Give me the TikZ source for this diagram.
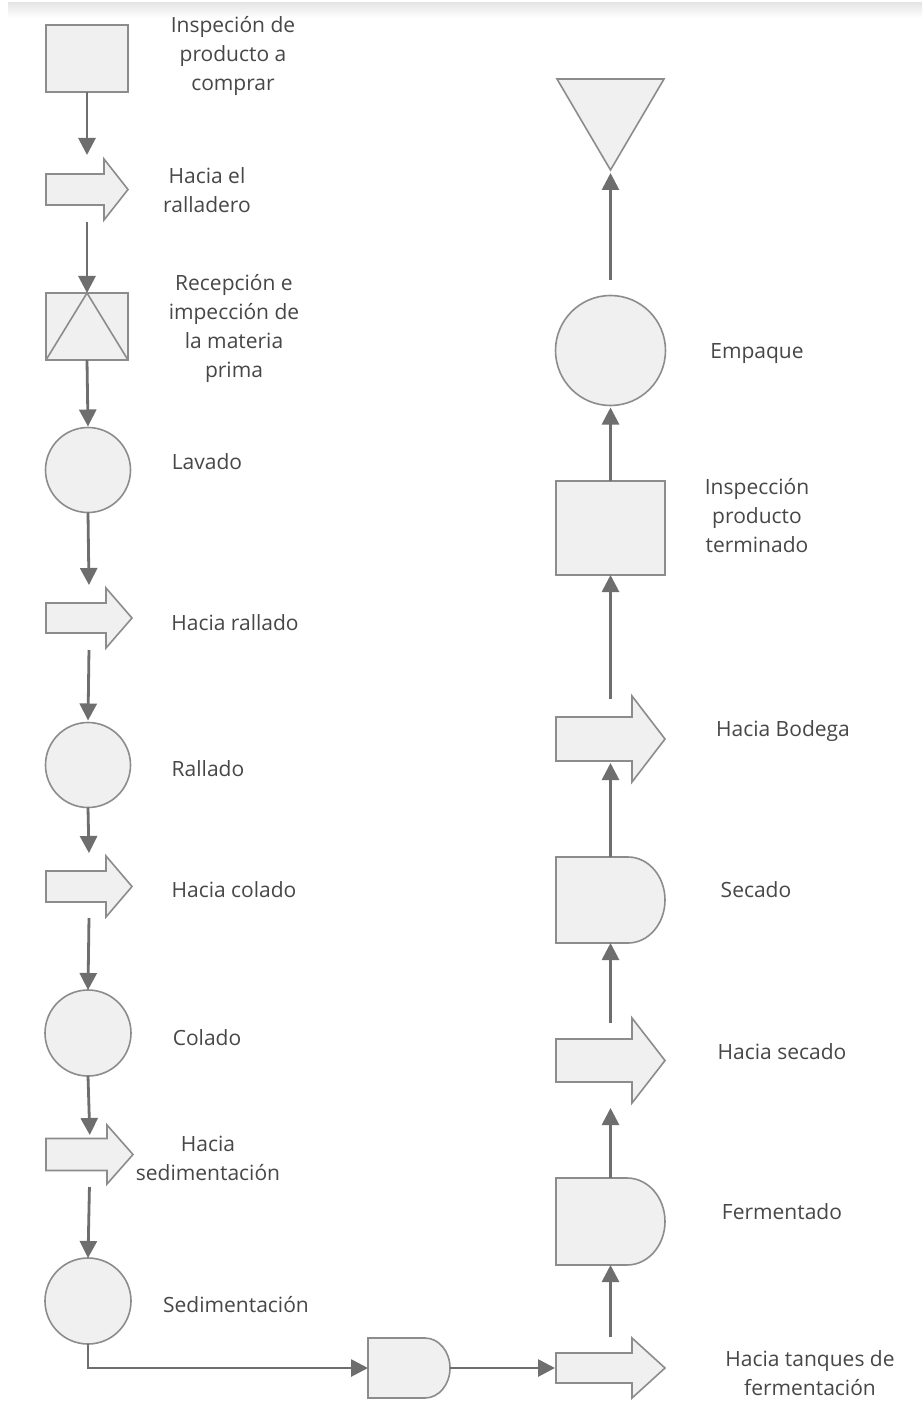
\documentclass[tikz,border=0pt]{standalone}
\usepackage{fontspec}
\setmainfont{Open Sans}
\usetikzlibrary{arrows.meta,calc}
\definecolor{shpfill}{HTML}{F0F0F0}
\definecolor{shpdraw}{HTML}{8C8C8C}
\definecolor{conncol}{HTML}{6E6E6E}
\definecolor{txtcol}{HTML}{474747}
\tikzset{
  shp/.style={draw=shpdraw,fill=shpfill,line width=1.6pt,line join=miter},
  shpline/.style={draw=shpdraw,line width=1.6pt},
  holder/.style={inner sep=0pt,outer sep=0pt},
  circ/.style={shp,circle,inner sep=0pt,outer sep=0pt,minimum size=#1},
  rbox/.style={shp,rectangle,inner sep=0pt,outer sep=0pt},
  conn/.style={draw=conncol,line width=2.8pt,-{Triangle[length=17pt,width=17pt]}},
  lbl/.style={text=txtcol,font=\fontsize{21}{29}\selectfont,align=center,inner sep=0pt}
}
% block arrow: name, head length, shaft half width
\newcommand\blockarr[3]{\draw[shp] ($(#1.west)+(0pt,#3pt)$) -- ($(#1.east)+(-#2pt,#3pt)$) -- ($(#1.north east)+(-#2pt,0pt)$) -- (#1.east) -- ($(#1.south east)+(-#2pt,0pt)$) -- ($(#1.east)+(-#2pt,-#3pt)$) -- ($(#1.west)+(0pt,-#3pt)$) -- cycle;}
% D shape: name, arc x radius, half height
\newcommand\dshape[3]{\draw[shp] (#1.north west) -- ($(#1.north east)+(-#2pt,0pt)$) arc[start angle=90,end angle=-90,x radius=#2pt,y radius=#3pt] -- (#1.south west) -- cycle;}
\begin{document}
\begin{tikzpicture}[x=1pt,y=-1pt]
\useasboundingbox (0,0) rectangle (922,1404);
\fill[white] (0,0) rectangle (922,1404);
\shade[top color=black!10,bottom color=white] (8,3) rectangle (922,18);

% ---------- placeholders / shapes (left column)
\node[rbox,minimum width=82pt,minimum height=67pt] (sq1) at (87,58.5) {};
\node[holder,minimum width=82pt,minimum height=61pt] (ba1) at (87,189.5) {};
\node[rbox,minimum width=82pt,minimum height=67pt] (rc2) at (87,326.5) {};
\node[circ=85pt] (c1) at (88,470) {};
\node[holder,minimum width=86pt,minimum height=60pt] (ba2) at (89,618) {};
\node[circ=85pt] (c2) at (88,765) {};
\node[holder,minimum width=86pt,minimum height=61pt] (ba3) at (89,886.5) {};
\node[circ=86pt] (c3) at (88,1033) {};
\node[holder,minimum width=87pt,minimum height=59pt] (ba4) at (89.5,1154.5) {};
\node[circ=86pt] (c4) at (88,1301) {};
\node[holder,minimum width=82pt,minimum height=60pt] (gate) at (409,1368) {};

% ---------- right column
\node[holder,minimum width=107pt,minimum height=91pt] (tri) at (610.5,124.5) {};
\node[circ=110pt] (cE) at (610.5,350.5) {};
\node[rbox,minimum width=109pt,minimum height=94pt] (sqI) at (610.5,528) {};
\node[holder,minimum width=109pt,minimum height=86pt] (baR2) at (610.5,739) {};
\node[holder,minimum width=109pt,minimum height=86pt] (sec) at (610.5,900) {};
\node[holder,minimum width=109pt,minimum height=85pt] (baR1) at (610.5,1060.5) {};
\node[holder,minimum width=109pt,minimum height=87pt] (fer) at (610.5,1221.5) {};
\node[holder,minimum width=109pt,minimum height=60pt] (baR0) at (610.5,1368) {};

% shapes drawn from placeholders
\blockarr{ba1}{24}{15.5}
\draw[shpline] (rc2.south west) -- (rc2.north) -- (rc2.south east);
\blockarr{ba2}{26}{15}
\blockarr{ba3}{26}{15.5}
\blockarr{ba4}{26}{16}
\dshape{gate}{25}{30}
\draw[shp] (tri.north west) -- (tri.north east) -- (tri.south) -- cycle;
\blockarr{baR2}{33}{22}
\dshape{sec}{37}{43}
\blockarr{baR1}{33}{21.5}
\dshape{fer}{38}{43.5}
\blockarr{baR0}{33}{15}

% ---------- connectors
\draw[conn,shorten >=4pt] (sq1.south) -- (ba1.north);
\draw[conn,shorten <=2pt] (ba1.south) -- (rc2.north);
\draw[conn,shorten >=1pt] (rc2.south) -- (c1.north);
\draw[conn,shorten >=3pt] (c1.south) -- (ba2.north);
\draw[conn,shorten <=2pt,shorten >=2pt] (ba2.south) -- (c2.north);
\draw[conn,shorten >=3pt] (c2.south) -- (ba3.north);
\draw[conn,shorten <=1pt] (ba3.south) -- (c3.north);
\draw[conn,shorten >=-10pt] (c3.south) -- (ba4.north);
\draw[conn,shorten <=3pt] (ba4.south) -- (c4.north);
\draw[conn] (c4.south) |- (gate.west);
\draw[conn,shorten >=1pt] (gate.east) -- (baR0.west);
\draw[conn,shorten <=1pt] (baR0.north) -- (fer.south);
\draw[conn,shorten >=5pt] (fer.north) -- (baR1.south);
\draw[conn,shorten <=-5pt] (baR1.north) -- (sec.south);
\draw[conn,shorten >=-19pt] (sec.north) -- (baR2.south);
\draw[conn,shorten <=-3pt] (baR2.north) -- (sqI.south);
\draw[conn,shorten >=2pt] (sqI.north) -- (cE.south);
\draw[conn,shorten <=15pt,shorten >=3pt] (cE.north) -- (tri.south);

% ---------- labels
\node[lbl] (t1) at (233,56) {Inspeción de\\producto a\\comprar};
\node[lbl] (t2) at (207,190) {Hacia el\\ralladero};
\node[lbl] (t3) at (234,328) {Recepción e\\impección de\\la materia\\prima};
\node[lbl] (t4) at (207,462) {Lavado};
\node[lbl] (t5) at (235,623) {Hacia rallado};
\node[lbl] (t6) at (208,769) {Rallado};
\node[lbl] (t7) at (234,890) {Hacia colado};
\node[lbl] (t8) at (207,1038) {Colado};
\node[lbl] (t9) at (208,1158) {Hacia\\sedimentación};
\node[lbl] (t10) at (236,1305) {Sedimentación};
\node[lbl] (t11) at (757,354) {Empaque};
\node[lbl] (t12) at (757,516) {Inspección\\producto\\terminado};
\node[lbl] (t13) at (783,731) {Hacia Bodega};
\node[lbl] (t14) at (756,890) {Secado};
\node[lbl] (t15) at (782,1052) {Hacia secado};
\node[lbl] (t16) at (782,1212) {Fermentado};
\node[lbl] (t17) at (810,1373) {Hacia tanques de\\fermentación};
\end{tikzpicture}
\end{document}
